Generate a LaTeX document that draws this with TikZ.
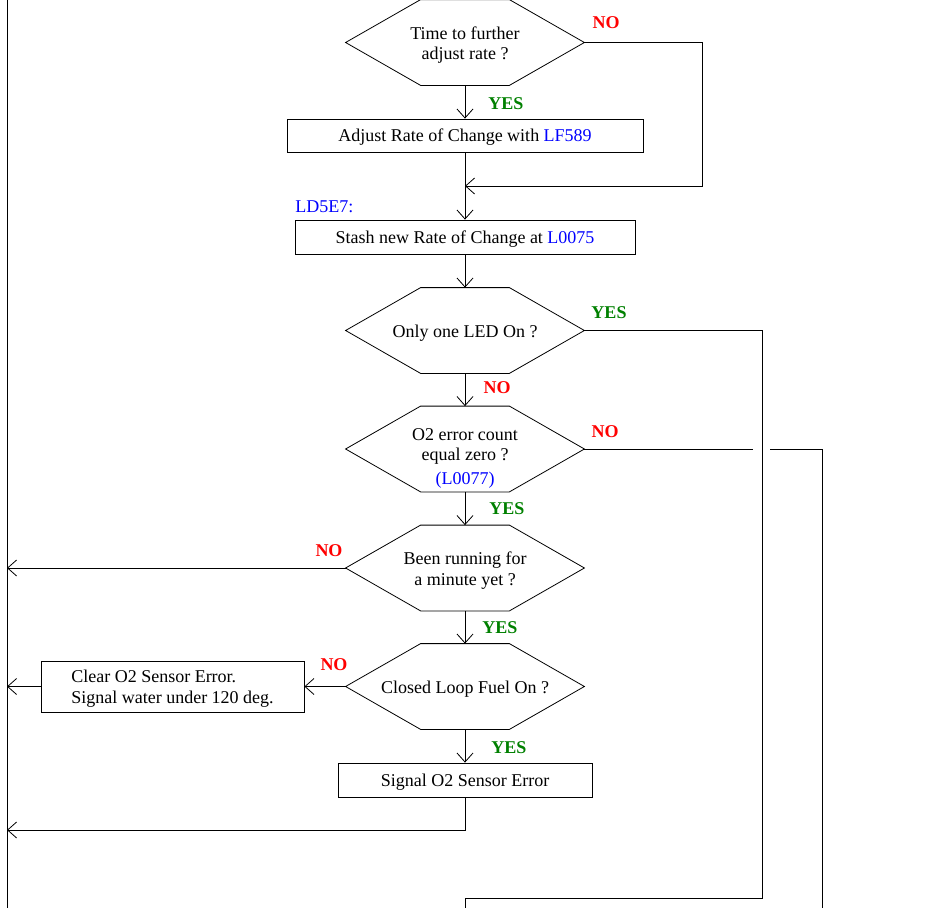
\documentclass[tikz,border=0pt]{standalone}
\usepackage{fontspec}
\setmainfont{Liberation Serif}
\usepackage{xcolor}
\usetikzlibrary{arrows.meta}

\definecolor{nored}{RGB}{255,0,0}
\definecolor{yesgreen}{RGB}{0,128,0}
\definecolor{addrblue}{RGB}{0,0,255}
\newcommand{\txt}{\fontsize{18}{20.5}\selectfont}
\newcommand{\hexnode}[4][-2.5pt]{%
        \node[hexbox] (#2) at (#3) {};
        \node[hextext, yshift=#1] (#2t) at (#2) {#4};
        \draw (#2.west) -- ([xshift=75pt]#2.north west) -- ([xshift=-75pt]#2.north east) -- (#2.east)
              -- ([xshift=-75pt]#2.south east) -- ([xshift=75pt]#2.south west) -- cycle;
}

\begin{document}
\begin{tikzpicture}[x=1pt, y=-1pt, line width=0.8pt,
        hexbox/.style={minimum width=238pt, minimum height=85pt, inner sep=0pt},
        hextext/.style={font=\txt, align=center, inner sep=0pt},
        stepbox/.style={draw, font=\txt, minimum height=34pt, inner sep=0pt, text depth=0pt},
        yes/.style={font=\txt\bfseries, text=yesgreen},
        no/.style={font=\txt\bfseries, text=nored},
        flow/.style={-{Straight Barb[length=9pt, width=16pt]}}]
        \useasboundingbox (0,0) rectangle (940,908);

        \coordinate (railtop) at (7,0);
        \coordinate (railbot) at (7,908);
        \draw (railtop) -- (railbot);

        \hexnode{hexA}{465,42.5}{Time to further\\adjust rate ?}
        \node[stepbox, minimum width=356pt, minimum height=33pt] (adjust) at (465,135.5)
                {Adjust Rate of Change with \textcolor{addrblue}{LF589}};
        \coordinate (join1) at (465,186);
        \node[font=\txt, text=addrblue, anchor=west, inner sep=0pt] (ld5e7) at (295,207) {LD5E7:};
        \node[stepbox, minimum width=340pt] (stash) at (465,237)
                {Stash new Rate of Change at \textcolor{addrblue}{L0075}};

        \hexnode{hexB}{465,330.5}{Only one LED On ?}
        \hexnode[-9pt]{hexC}{465,449}{O2 error count\\equal zero ?\\[3pt]\textcolor{addrblue}{(L0077)}}
        \hexnode{hexD}{465,568}{Been running for\\a minute yet ?}
        \hexnode{hexE}{465,686.5}{Closed Loop Fuel On ?}
        \node[stepbox, minimum width=263pt, minimum height=51pt, align=left] (clear) at (172.5,686.5)
                {Clear O2 Sensor Error.\\Signal water under 120 deg.};
        \node[stepbox, minimum width=254pt] (signal) at (465,780) {Signal O2 Sensor Error};

        \node[no] (no1) at (606,23) {NO};
        \node[yes] (yes1) at (506,104) {YES};
        \node[yes] (yes2) at (609,313) {YES};
        \node[no] (no2) at (497,388) {NO};
        \node[no] (no3) at (605,432) {NO};
        \node[yes] (yes3) at (507,509) {YES};
        \node[no] (no4) at (329,551) {NO};
        \node[yes] (yes4) at (500,628) {YES};
        \node[no] (no5) at (334,665) {NO};
        \node[yes] (yes5) at (509,748) {YES};

        \draw[flow] (hexA.south) -- (adjust.north);
        \draw (adjust.south) -- (join1);
        \draw[flow] (hexA.east) -| (702,186) -- (join1);
        \draw[flow] (join1) -- (stash.north);
        \draw[flow] (stash.south) -- (hexB.north);
        \draw[flow] (hexB.south) -- (hexC.north);
        \draw[flow] (hexC.south) -- (hexD.north);
        \draw[flow] (hexD.south) -- (hexE.north);
        \draw[flow] (hexE.south) -- (signal.north);

        \coordinate (exitB) at (465,908);
        \draw (hexB.east) -| (762,898) -| (exitB);
        \coordinate (gapL) at (753,449);
        \coordinate (gapR) at (770,449);
        \coordinate (exitC) at (822,908);
        \draw (hexC.east) -- (gapL);
        \draw (gapR) -| (exitC);

        \draw[flow] (hexD.west) -- (hexD.west -| railtop);
        \draw[flow] (hexE.west) -- (clear.east);
        \draw[flow] (clear.west) -- (clear.west -| railtop);
        \coordinate (back) at (465,830);
        \draw[flow] (signal.south) -- (back) -- (back -| railtop);
\end{tikzpicture}
\end{document}
